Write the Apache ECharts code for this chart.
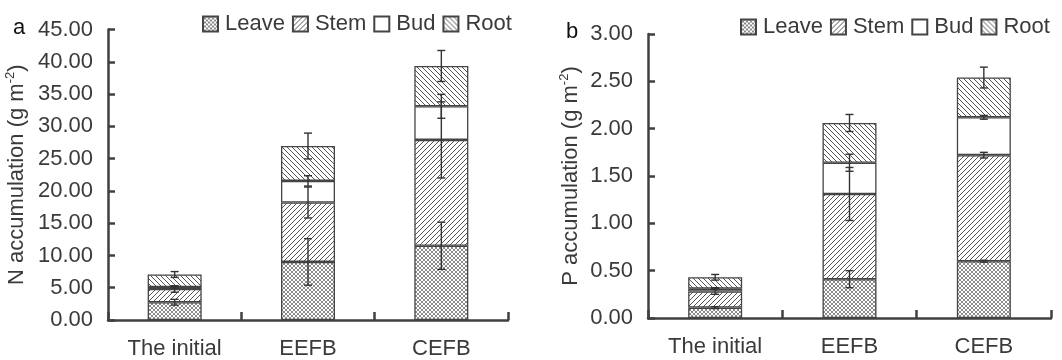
<!DOCTYPE html>
<html>
<head>
<meta charset="utf-8">
<script src="https://cdn.jsdelivr.net/npm/echarts@6/dist/echarts.min.js"></script>
<style>
  html, body { margin: 0; padding: 0; background: #fff; }
  #chart { width: 1062px; height: 360px; }
</style>
</head>
<body>
<div id="chart"></div>
<script>
const categories = ['The initial', 'EEFB', 'CEFB']
const parts = ['Leave', 'Stem', 'Bud', 'Root']

// panel a: N accumulation (g m-2), segment values
const nLeave = [2.75, 9.0, 11.5]
const nStem = [2.05, 9.2, 16.4]
const nBud = [0.3, 3.35, 5.2]
const nRoot = [1.95, 5.4, 6.25]
const nLeaveErr = [0.45, 3.6, 3.65]
const nStemErr = [0.5, 2.4, 5.9]
const nBudErr = [0.15, 0.8, 1.85]
const nRootErr = [0.45, 2.0, 2.4]

// panel b: P accumulation (g m-2)
const pLeave = [0.11, 0.41, 0.60]
const pStem = [0.17, 0.90, 1.12]
const pBud = [0.03, 0.33, 0.40]
const pRoot = [0.12, 0.42, 0.42]
const pLeaveErr = [0.01, 0.09, 0.01]
const pStemErr = [0.03, 0.28, 0.03]
const pBudErr = [0.01, 0.09, 0.02]
const pRootErr = [0.03, 0.09, 0.11]

const textColor = '#3a3a3a'
const lineColor = '#404040'
const font = 'Liberation Sans, Arial, sans-serif'

// hatch patterns
function makePattern(kind) {
  const s = kind === 'cross' ? 4 : 5
  const c = document.createElement('canvas')
  c.width = s
  c.height = s
  const ctx = c.getContext('2d')
  ctx.fillStyle = '#fff'
  ctx.fillRect(0, 0, s, s)
  ctx.strokeStyle = kind === 'cross' ? '#8a8a8a' : '#555'
  ctx.lineWidth = 1
  const fwd = () => {
    ctx.beginPath()
    ctx.moveTo(-1, s + 1); ctx.lineTo(s + 1, -1)
    ctx.moveTo(-1, 1); ctx.lineTo(1, -1)
    ctx.moveTo(s - 1, s + 1); ctx.lineTo(s + 1, s - 1)
    ctx.stroke()
  }
  const back = () => {
    ctx.beginPath()
    ctx.moveTo(-1, -1); ctx.lineTo(s + 1, s + 1)
    ctx.moveTo(s - 1, -1); ctx.lineTo(s + 1, 1)
    ctx.moveTo(-1, s - 1); ctx.lineTo(1, s + 1)
    ctx.stroke()
  }
  if (kind === 'fwd' || kind === 'cross') fwd()
  if (kind === 'back' || kind === 'cross') back()
  return { image: c, repeat: 'repeat' }
}

const fills = {
  Leave: makePattern('cross'),
  Stem: makePattern('fwd'),
  Bud: '#ffffff',
  Root: makePattern('back')
}

function errRender(params, api) {
  const x = api.value(0)
  const y = api.value(1)
  const e = api.value(2)
  const top = api.coord([x, y + e])
  const bot = api.coord([x, y - e])
  const h = 4
  const st = { stroke: '#333', lineWidth: 1.4 }
  return {
    type: 'group',
    children: [
      { type: 'line', shape: { x1: top[0], y1: top[1], x2: bot[0], y2: bot[1] }, style: st },
      { type: 'line', shape: { x1: top[0] - h, y1: top[1], x2: top[0] + h, y2: top[1] }, style: st },
      { type: 'line', shape: { x1: bot[0] - h, y1: bot[1], x2: bot[0] + h, y2: bot[1] }, style: st }
    ]
  }
}

function buildPanel(idx, values, errors) {
  const series = []
  const errData = []
  const cum = categories.map(() => 0)
  parts.forEach((name, k) => {
    series.push({
      name: name,
      type: 'bar',
      stack: 'p' + idx,
      xAxisIndex: idx,
      yAxisIndex: idx,
      barWidth: 54,
      data: values[k],
      itemStyle: { color: fills[name], borderColor: '#444', borderWidth: 1.3 },
      emphasis: { disabled: true }
    })
    values[k].forEach((v, i) => {
      cum[i] += v
      errData.push([i, cum[i], errors[k][i]])
    })
  })
  series.push({
    type: 'custom',
    xAxisIndex: idx,
    yAxisIndex: idx,
    renderItem: errRender,
    data: errData,
    z: 10,
    silent: true
  })
  return series
}

function yAxis(idx, max, interval, name, digits, nameGap) {
  return {
    type: 'value',
    gridIndex: idx,
    min: 0,
    max: max,
    interval: interval,
    name: '{t|' + name + ' (g m}{s|-2}{t|)}',
    nameLocation: 'middle',
    nameGap: nameGap,
    nameTextStyle: {
      rich: {
        t: { fontSize: 22, color: textColor, fontFamily: font },
        s: { fontSize: 13, color: textColor, fontFamily: font, verticalAlign: 'top', lineHeight: 26 }
      }
    },
    axisLine: { show: true, lineStyle: { color: lineColor, width: 2.5 } },
    axisTick: { show: true, inside: true, length: 7, lineStyle: { color: lineColor, width: 2.5 } },
    axisLabel: { fontSize: 22, color: textColor, fontFamily: font, margin: 15, formatter: v => v.toFixed(digits) },
    splitLine: { show: false }
  }
}

function xAxis(idx) {
  return {
    type: 'category',
    gridIndex: idx,
    data: categories,
    axisLine: { lineStyle: { color: lineColor, width: 2.5 } },
    axisTick: { show: true, inside: true, length: 8, alignWithLabel: false, lineStyle: { color: lineColor, width: 2.5 } },
    axisLabel: { fontSize: 22, color: textColor, fontFamily: font, margin: 18 }
  }
}

function legend(idx, left, top) {
  return {
    data: parts,
    left: left,
    top: top,
    padding: 0,
    icon: 'rect',
    itemWidth: 15,
    itemHeight: 15,
    itemGap: 7,
    selectedMode: false,
    textStyle: { fontSize: 22, color: textColor, fontFamily: font, padding: [0, 0, 0, 2] }
  }
}

const chart = echarts.init(document.getElementById('chart'), null, { renderer: 'canvas' })

const option = {
  animation: false,
  backgroundColor: '#fff',
  grid: [
    { left: 108, top: 29.5, width: 400, height: 291 },
    { left: 648, top: 34, width: 403, height: 284 }
  ],
  xAxis: [xAxis(0), xAxis(1)],
  yAxis: [
    yAxis(0, 45, 5, 'N accumulation', 2, 78),
    yAxis(1, 3, 0.5, 'P accumulation', 2, 64)
  ],
  legend: [legend(0, 202, 13), legend(1, 740, 16)],
  graphic: [
    { type: 'text', left: 13, top: 17, style: { text: 'a', fontSize: 22, fill: '#111', fontFamily: font } },
    { type: 'text', left: 566, top: 21, style: { text: 'b', fontSize: 22, fill: '#111', fontFamily: font } }
  ],
  series: [
    ...buildPanel(0, [nLeave, nStem, nBud, nRoot], [nLeaveErr, nStemErr, nBudErr, nRootErr]),
    ...buildPanel(1, [pLeave, pStem, pBud, pRoot], [pLeaveErr, pStemErr, pBudErr, pRootErr])
  ]
}

option && chart.setOption(option)
</script>
</body>
</html>
